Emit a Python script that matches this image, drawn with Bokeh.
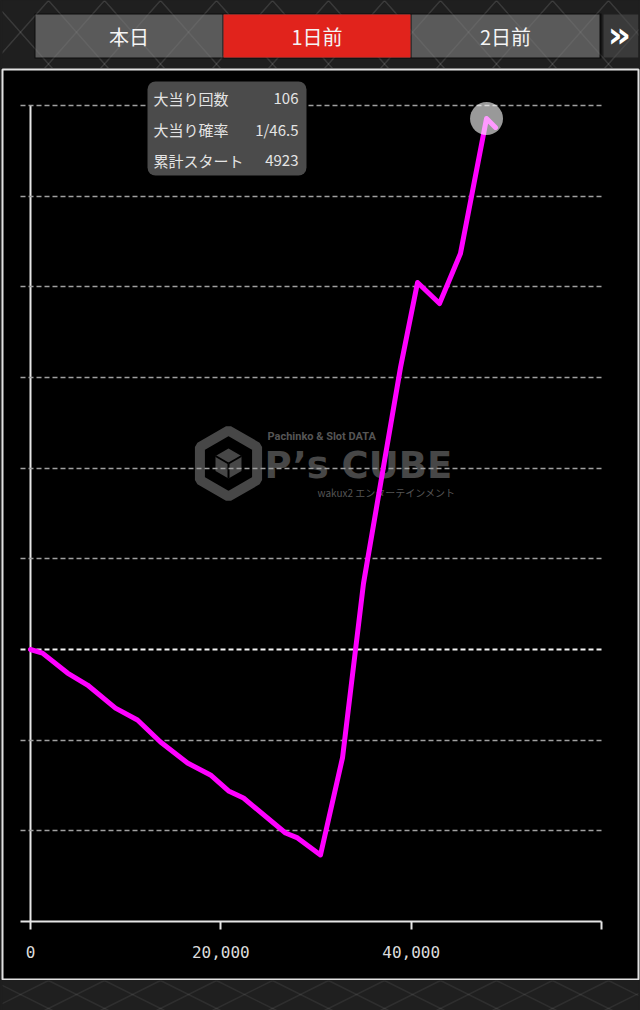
import math
from bokeh.plotting import figure
from bokeh.layouts import column
from bokeh.models import Range1d, FixedTicker, NumeralTickFormatter, BoxAnnotation, LinearAxis
from bokeh.core.properties import value
from bokeh.embed import file_html
from bokeh.resources import INLINE

# ---------------- data ----------------
games_out = [0, 1260, 3890, 5990, 8930, 11240, 13660, 16500, 18910, 20810, 22380,
             26800, 28060, 30470, 32790, 34990, 38880, 40670, 42980, 45180, 47920, 48860]
balance = [0, -200, -1300, -1960, -3230, -3890, -5100, -6260, -6920, -7800, -8190,
           -10120, -10390, -11330, -5960, 3640, 15550, 20240, 19080, 21840, 29280, 28790]

x_ticks = [0, 20000, 40000, 60000]
x_label_override = {60000: ""}
y_ticks = [-15000, -10000, -5000, 0, 5000, 10000, 15000, 20000, 25000, 30000]

tab_labels = ["本日", "1日前", "2日前"]
active_tab = 1

info_labels = ["大当り回数", "大当り確率", "累計スタート"]
info_values = ["106", "1/46.5", "4923"]

wm_small = "Pachinko & Slot DATA"
wm_big = "P’s CUBE"
wm_sub = "wakux2 エンターテインメント"

X_START, X_END = 0, 60000
Y_START, Y_END = -15000, 30000

# ---------------- layout (page pixels) ----------------
W = 640
TOP_H = 68
MAIN_H = 912
BOT_H = 30
PANEL_L, PANEL_R, PANEL_T, PANEL_B = 2, 638, 69, 979
AX_L, AX_R, AX_T, AX_B = 30, 601, 105, 921
BG = "#1f1f1f"
JP = value("Noto Sans CJK JP")


def dx(px):
    return X_START + (px - AX_L) / (AX_R - AX_L) * (X_END - X_START)


def dy(py):
    return Y_END - (py - AX_T) / (AX_B - AX_T) * (Y_END - Y_START)


def pattern(fig, y0, y1, alpha):
    xs, ys = [], []
    for x0 in range(-120, 780, 56):
        xs.append([x0, x0 + 60]); ys.append([y0, y1])
        xs.append([x0, x0 - 60]); ys.append([y0, y1])
    fig.multi_line(xs, ys, line_color="white", line_alpha=alpha, line_width=1.5)


def deco_fig(height, y_top):
    f = figure(width=W, height=height, x_range=Range1d(PANEL_L, PANEL_R),
               y_range=Range1d(y_top + height, y_top), toolbar_location=None,
               output_backend="svg", x_axis_location=None, y_axis_location=None,
               min_border_left=PANEL_L, min_border_right=W - PANEL_R,
               min_border_top=0, min_border_bottom=0,
               background_fill_color=BG, border_fill_color=BG, outline_line_color=None)
    f.grid.visible = False
    return f


# ---------------- top tab bar ----------------
top = deco_fig(TOP_H, 0)
pattern(top, 0, TOP_H, 0.07)
top.quad(left=[34], right=[601], top=[13], bottom=[58], fill_color="#0c0c0c", line_color=None)
tab_l = [35, 223, 411]
tab_r = [222, 410, 599]
top.quad(left=tab_l, right=tab_r, top=[14] * 3, bottom=[57] * 3, fill_color="#5a5a5a", line_color=None)
top.quad(left=[603], right=[PANEL_R], top=[14], bottom=[57], fill_color="#3a3a3a", line_color=None)
pattern(top, 0, TOP_H, 0.06)
top.quad(left=[tab_l[active_tab]], right=[tab_r[active_tab]], top=[14], bottom=[57],
         fill_color="#e1231c", line_color=None)
top.text(x=[(a + b) / 2 for a, b in zip(tab_l, tab_r)], y=[36] * 3, text=tab_labels,
         text_font=JP, text_font_size="20px", text_color="#f4f4f4",
         text_align="center", text_baseline="middle")
top.text(x=[619], y=[34], text=["»"], text_font=value("DejaVu Sans"), text_font_style="bold",
         text_font_size="36px", text_color="white", text_align="center", text_baseline="middle")

# ---------------- main chart ----------------
p = figure(width=W, height=MAIN_H, x_range=Range1d(dx(PANEL_L), dx(PANEL_R)),
           y_range=Range1d(dy(PANEL_B), dy(PANEL_T)), toolbar_location=None, output_backend="svg",
           min_border_left=PANEL_L, min_border_right=W - PANEL_R,
           min_border_top=PANEL_T - TOP_H, min_border_bottom=TOP_H + MAIN_H - PANEL_B,
           background_fill_color="black", border_fill_color=BG,
           outline_line_color="#e2e2e2", outline_line_width=2)
p.grid.visible = False

# watermark
WM = "#474747"
def hexagon(cx, cy, r):
    xs, ys = [], []
    for k in range(6):
        a = math.radians(90 + 60 * k)
        xs.append(dx(cx + r * math.cos(a)))
        ys.append(dy(cy - r * math.sin(a)))
    return xs, ys

hx, hy = hexagon(228, 463, 33)
p.patch(hx + [hx[0]], hy + [hy[0]], fill_color=None, line_color=WM, line_width=10, level="image")
cx_, cy_ = hexagon(228, 463, 15)
p.patch(cx_, cy_, fill_color=WM, line_color=None, level="image")
cube_x, cube_y = [], []
for ang in (30, 150, 270):
    a = math.radians(ang)
    cube_x.append([dx(228), dx(228 + 15 * math.cos(a))])
    cube_y.append([dy(463), dy(463 - 15 * math.sin(a))])
p.multi_line(cube_x, cube_y, line_color="black", line_width=2, level="image")
p.text(x=[dx(267)], y=[dy(436)], text=[wm_small], text_font=value("Roboto"), text_font_style="bold",
       text_font_size="11px", text_color="#555555", text_baseline="middle", level="image")
p.text(x=[dx(264)], y=[dy(465)], text=[wm_big], text_font=value("DejaVu Sans"), text_font_style="bold",
       text_font_size="37px", text_color=WM, text_baseline="middle", level="image")
p.text(x=[dx(317)], y=[dy(492)], text=[wm_sub], text_font=JP,
       text_font_size="10px", text_color="#555555", text_baseline="middle", level="image")

# x axis (fixed at the bottom of the value range)
xa = p.xaxis[0]
xa.fixed_location = Y_START
xa.bounds = (dx(AX_L - 10), X_END)
xa.ticker = FixedTicker(ticks=x_ticks)
xa.formatter = NumeralTickFormatter(format="0,0")
xa.major_label_overrides = x_label_override
xa.axis_line_color = "#e6e6e6"
xa.axis_line_width = 2
xa.major_tick_in = 0
xa.major_tick_out = 8
xa.major_tick_line_color = "#e6e6e6"
xa.major_tick_line_width = 2
xa.minor_tick_line_color = None
xa.major_label_text_font = "DejaVu Sans Mono"
xa.major_label_text_font_size = "16px"
xa.major_label_text_color = "#dcdcdc"
xa.major_label_standoff = 16

# y axis at x = 0; its ticks run across the plot as dashed grid lines
grid_ticks = [t for t in y_ticks if t not in (0, Y_START)]
ya = p.yaxis[0]
ya.fixed_location = X_START
ya.bounds = (Y_START, Y_END)
ya.ticker = FixedTicker(ticks=grid_ticks)
ya.major_label_overrides = {t: "" for t in grid_ticks}
ya.axis_line_color = "#e6e6e6"
ya.axis_line_width = 2
ya.major_tick_in = AX_R - AX_L
ya.major_tick_out = 10
ya.major_tick_line_color = "#a0a0a0"
ya.major_tick_line_dash = "5 3"
ya.major_tick_line_width = 1.5
ya.minor_tick_line_color = None

zero_axis = LinearAxis(fixed_location=X_START, ticker=FixedTicker(ticks=[0]),
                       major_label_overrides={0: ""}, axis_line_color=None,
                       major_tick_in=AX_R - AX_L, major_tick_out=10,
                       major_tick_line_color="#f2f2f2", major_tick_line_dash="5 3",
                       major_tick_line_width=2, minor_tick_line_color=None)
p.add_layout(zero_axis, "left")

# series
p.line(games_out, balance, line_color="#ff00ff", line_width=5, line_join="round",
       line_cap="round", level="overlay")
peak = balance.index(max(balance))
p.scatter([games_out[peak]], [balance[peak]], size=33, fill_color="white", fill_alpha=0.6,
          line_color=None, level="overlay")

# info box
p.add_layout(BoxAnnotation(left=dx(147), right=dx(306), top=dy(81), bottom=dy(175),
                           fill_color="#4b4b4b", fill_alpha=1.0, line_color=None, border_radius=8,
                           level="annotation"))
row_y = [dy(97.5 + 31 * i) for i in range(len(info_labels))]
p.text(x=[dx(153)] * len(info_labels), y=row_y, text=info_labels, text_font=JP,
       text_font_size="15px", text_color="#e4e4e4", text_align="left", text_baseline="middle",
       level="overlay")
p.text(x=[dx(298)] * len(info_values), y=row_y, text=info_values, text_font=JP,
       text_font_size="15px", text_color="#e4e4e4", text_align="right", text_baseline="middle",
       level="overlay")

# ---------------- bottom strip ----------------
bot = deco_fig(BOT_H, TOP_H + MAIN_H)
pattern(bot, TOP_H + MAIN_H, TOP_H + MAIN_H + BOT_H, 0.07)

layout = column(top, p, bot, spacing=0)
html = file_html(layout, INLINE, title="chart")
html = html.replace("<head>", "<head><style>html, body { background: %s; }</style>" % BG, 1)
open("out.html", "w").write(html)
